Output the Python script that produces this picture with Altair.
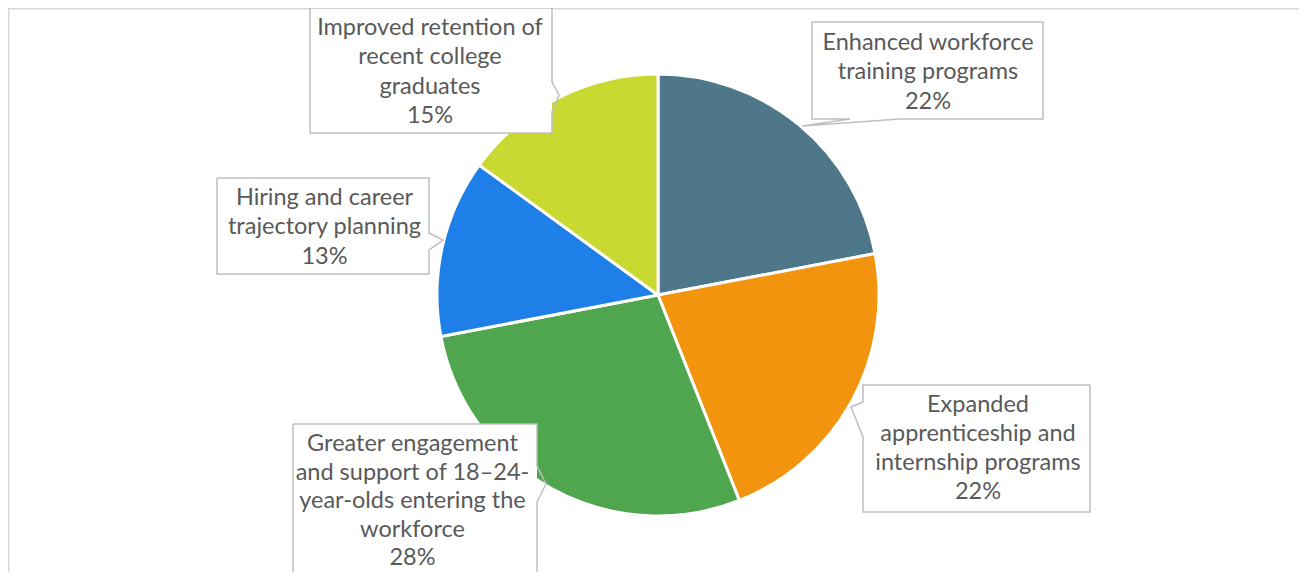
import altair as alt
import pandas as pd

# ---- data ----
categories = [
    "Enhanced workforce training programs",
    "Expanded apprenticeship and internship programs",
    "Greater engagement and support of 18–24-year-olds entering the workforce",
    "Hiring and career trajectory planning",
    "Improved retention of recent college graduates",
]
values = [22, 22, 28, 13, 15]
label_lines = [
    ["Enhanced workforce", "training programs"],
    ["Expanded", "apprenticeship and", "internship programs"],
    ["Greater engagement", "and support of 18–24-", "year-olds entering the", "workforce"],
    ["Hiring and career", "trajectory planning"],
    ["Improved retention of", "recent college", "graduates"],
]
colors = ["#4E7889", "#F3940F", "#4FA64E", "#1E7FE9", "#C9D932"]

# ---- layout (pixels inside the chart) ----
W, H = 1291, 564
CX, CY, R = 650, 287, 221
callouts = [
    dict(x0=804, x1=1035, y0=14, y1=111, edge="bottom", a=892, tip=(794, 118), b=842, tx=920, ty=42, lh=29.3),
    dict(x0=855, x1=1082, y0=377, y1=504, edge="left", a=394, tip=(843, 399), b=429, tx=970, ty=403.5, lh=29.3),
    dict(x0=285, x1=529, y0=416, y1=600, edge="right", a=458, tip=(538, 476), b=494, tx=404.5, ty=443, lh=28.5),
    dict(x0=209, x1=421, y0=170, y1=266, edge="right", a=225, tip=(435, 232), b=242, tx=316.5, ty=197, lh=29.3),
    dict(x0=302, x1=544, y0=0, y1=125, edge="right", a=74, tip=(551, 87), b=104, tx=422, ty=27, lh=29.3),
]

pie_df = pd.DataFrame({"category": categories, "value": values, "idx": range(len(values))})

box_rows, outline_rows, text_rows = [], [], []
for i, c in enumerate(callouts):
    box_rows.append(dict(id=i, x0=c["x0"], x1=c["x1"], y0=c["y0"], y1=c["y1"]))
    x0, x1, y0, y1 = c["x0"], c["x1"], c["y0"], c["y1"]
    tx, ty = c["tip"]
    if c["edge"] == "right":
        pts = [(x0, y0), (x1, y0), (x1, c["a"]), (tx, ty), (x1, c["b"]), (x1, y1), (x0, y1), (x0, y0)]
    elif c["edge"] == "left":
        pts = [(x1, y0), (x0, y0), (x0, c["a"]), (tx, ty), (x0, c["b"]), (x0, y1), (x1, y1), (x1, y0)]
    else:  # bottom
        pts = [(x0, y0), (x1, y0), (x1, y1), (c["a"], y1), (tx, ty), (c["b"], y1), (x0, y1), (x0, y0)]
    for k, (px, py) in enumerate(pts):
        outline_rows.append(dict(id=i, k=k, x=px, y=py))
    lines = label_lines[i] + [f"{values[i]}%"]
    for j, t in enumerate(lines):
        text_rows.append(dict(id=i, text=t, x=c["tx"], y=c["ty"] + j * c["lh"]))

box_df = pd.DataFrame(box_rows)
outline_df = pd.DataFrame(outline_rows)
text_df = pd.DataFrame(text_rows)

frame_df = pd.DataFrame({"x": [0.75, 0.75, W + 20], "y": [H + 20, 0.75, 0.75], "k": [0, 1, 2]})

frame = alt.Chart(frame_df).mark_line(color="#D9D9D9", strokeWidth=1.5).encode(
    x=alt.X("x:Q", scale=None, axis=None),
    y=alt.Y("y:Q", scale=None, axis=None),
    order="k:Q",
)

pie = alt.Chart(pie_df).mark_arc(
    x=CX, y=CY, radius=R, stroke="white", strokeWidth=3
).encode(
    theta=alt.Theta("value:Q", stack=True),
    order=alt.Order("idx:Q"),
    color=alt.Color("category:N", scale=alt.Scale(domain=categories, range=colors), legend=None),
)

boxes = alt.Chart(box_df).mark_rect(fill="white", strokeWidth=0).encode(
    x=alt.X("x0:Q", scale=None, axis=None),
    x2="x1:Q",
    y=alt.Y("y0:Q", scale=None, axis=None),
    y2="y1:Q",
)

outlines = alt.Chart(outline_df).mark_line(color="#BFBFBF", strokeWidth=1.5, strokeJoin="miter").encode(
    x=alt.X("x:Q", scale=None, axis=None),
    y=alt.Y("y:Q", scale=None, axis=None),
    detail="id:N",
    order="k:Q",
)

texts = alt.Chart(text_df).mark_text(
    font="Lato", fontSize=23.5, color="#595959", align="center", baseline="alphabetic"
).encode(
    x=alt.X("x:Q", scale=None, axis=None),
    y=alt.Y("y:Q", scale=None, axis=None),
    text="text:N",
)

chart = alt.layer(frame, pie, boxes, outlines, texts).properties(
    width=W, height=H, autosize=alt.AutoSizeParams(type="none"), padding=0
).configure_view(stroke=None).configure(background="white")

chart.save("out.html", embed_options={"renderer": "svg", "actions": False})
